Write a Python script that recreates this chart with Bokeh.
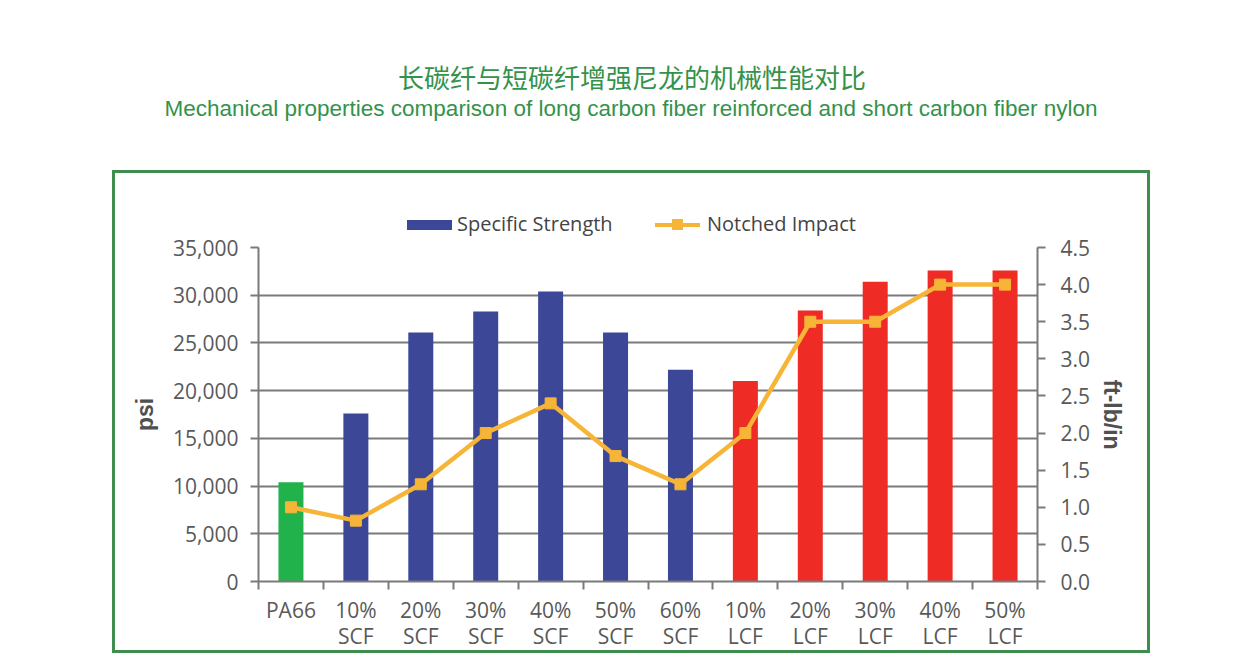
from bokeh.plotting import figure
from bokeh.layouts import column
from bokeh.models import (Range1d, LinearAxis, FixedTicker, NumeralTickFormatter,
                          ColumnDataSource, InlineStyleSheet, Div)
from bokeh.embed import file_html
from bokeh.resources import INLINE

# ---- data ----
categories = ["PA66", "10%\nSCF", "20%\nSCF", "30%\nSCF", "40%\nSCF", "50%\nSCF", "60%\nSCF",
              "10%\nLCF", "20%\nLCF", "30%\nLCF", "40%\nLCF", "50%\nLCF"]
groups = ["base", "scf", "scf", "scf", "scf", "scf", "scf", "lcf", "lcf", "lcf", "lcf", "lcf"]
specific_strength = [10400, 17600, 26100, 28300, 30400, 26100, 22200, 21000, 28400, 31400, 32600, 32600]
notched_impact = [1.0, 0.82, 1.31, 2.0, 2.4, 1.69, 1.31, 2.0, 3.5, 3.5, 4.0, 4.0]
psi_ticks = [0, 5000, 10000, 15000, 20000, 25000, 30000, 35000]
impact_ticks = [0.0, 0.5, 1.0, 1.5, 2.0, 2.5, 3.0, 3.5, 4.0, 4.5]
series_names = ["Specific Strength", "Notched Impact"]
title_cn = "长碳纤与短碳纤增强尼龙的机械性能对比"
title_en = "Mechanical properties comparison of long carbon fiber reinforced and short carbon fiber nylon"

group_colors = {"base": "#21b24b", "scf": "#3c4798", "lcf": "#ee2b25"}
LINE_COLOR = "#f6b537"
GRID = "#7a7a7a"
TXT = "#595959"
TITLE_GREEN = "#34924a"
FRAME_GREEN = "#3f8e4f"

W, H = 1260, 671
TOP_H = 238          # height of the header (titles + legend)
xpos = [i + 0.5 for i in range(len(categories))]

# ================= header: titles and legend =================
header_html = (
    '<div style="position:relative;width:%dpx;height:%dpx;overflow:visible;">' % (W, TOP_H)
    + '<div style="position:absolute;left:0;top:62px;width:1264px;text-align:center;'
      'font-family:\'Noto Sans CJK SC\';font-size:26px;line-height:30px;color:%s;">%s</div>'
      % (TITLE_GREEN, title_cn)
    + '<div style="position:absolute;left:0;top:96px;width:1262px;text-align:center;'
      'font-family:\'Liberation Sans\';font-size:22.5px;line-height:26px;color:%s;'
      'white-space:nowrap;">%s</div>' % (TITLE_GREEN, title_en)
    # legend entry 1: bar swatch
    + '<div style="position:absolute;left:407px;top:220px;width:45px;height:10px;'
      'background:%s;"></div>' % group_colors["scf"]
    + '<div style="position:absolute;left:457px;top:211px;font-family:\'Open Sans\';'
      'font-size:20px;line-height:26px;color:#444444;white-space:nowrap;">%s</div>'
      % series_names[0]
    # legend entry 2: line + square marker
    + '<div style="position:absolute;left:655px;top:223px;width:45px;height:4px;'
      'background:%s;"></div>' % LINE_COLOR
    + '<div style="position:absolute;left:672px;top:219px;width:11px;height:11px;'
      'background:%s;"></div>' % LINE_COLOR
    + '<div style="position:absolute;left:707px;top:211px;font-family:\'Open Sans\';'
      'font-size:20px;line-height:26px;color:#444444;white-space:nowrap;">%s</div>'
      % series_names[1]
    + '</div>'
)
head = Div(text=header_html, width=W, height=TOP_H, margin=0)

# ================= chart figure =================
p = figure(width=W, height=H - TOP_H, output_backend="svg", toolbar_location=None,
           x_range=Range1d(0, len(categories)), y_range=Range1d(0, 35000),
           min_border_left=258, min_border_right=223, min_border_top=247 - TOP_H,
           min_border_bottom=90, x_axis_location=None, y_axis_location=None)
p.outline_line_color = None
p.background_fill_color = "white"
p.border_fill_color = None
p.extra_y_ranges = {"impact": Range1d(0, 4.5)}

p.xgrid.visible = False
p.ygrid.ticker = FixedTicker(ticks=psi_ticks)
p.ygrid.grid_line_color = GRID
p.ygrid.grid_line_width = 2

for g in ["base", "scf", "lcf"]:
    idx = [i for i, gg in enumerate(groups) if gg == g]
    src = ColumnDataSource(dict(x=[xpos[i] for i in idx], top=[specific_strength[i] for i in idx]))
    p.vbar(x="x", top="top", width=0.385, source=src, fill_color=group_colors[g], line_color=None)

line_src = ColumnDataSource(dict(x=xpos, y=notched_impact))
p.line("x", "y", source=line_src, y_range_name="impact", line_color=LINE_COLOR, line_width=4.5)
p.scatter("x", "y", source=line_src, y_range_name="impact", marker="square", size=11,
          fill_color=LINE_COLOR, line_color=LINE_COLOR)

tick_font = "Open Sans"
ax_l = LinearAxis(ticker=FixedTicker(ticks=psi_ticks), formatter=NumeralTickFormatter(format="0,0"))
ax_l.axis_label = "psi"
ax_r = LinearAxis(y_range_name="impact", ticker=FixedTicker(ticks=impact_ticks),
                  formatter=NumeralTickFormatter(format="0.0"))
ax_r.axis_label = "ft-lb/in"
for ax in (ax_l, ax_r):
    ax.axis_line_color = GRID
    ax.axis_line_width = 2
    ax.major_tick_line_color = GRID
    ax.major_tick_line_width = 2
    ax.major_tick_out = 8
    ax.major_tick_in = 0
    ax.minor_tick_line_color = None
    ax.major_label_text_font = tick_font
    ax.major_label_text_font_size = "21px"
    ax.major_label_text_color = TXT
    ax.axis_label_text_font = "Liberation Sans"
    ax.axis_label_text_font_style = "bold"
    ax.axis_label_text_font_size = "23px"
    ax.axis_label_text_color = "#505050"
ax_l.major_label_standoff = 12
ax_l.axis_label_standoff = 12
ax_r.major_label_standoff = 15
ax_r.axis_label_standoff = 6
p.add_layout(ax_l, "left")
p.add_layout(ax_r, "right")

ax_b = LinearAxis(ticker=FixedTicker(ticks=xpos, minor_ticks=list(range(len(categories) + 1))))
ax_b.major_label_overrides = {x: c for x, c in zip(xpos, categories)}
ax_b.axis_line_color = GRID
ax_b.axis_line_width = 2
ax_b.major_tick_line_color = None
ax_b.minor_tick_line_color = GRID
ax_b.minor_tick_line_width = 2
ax_b.minor_tick_out = 8
ax_b.minor_tick_in = 0
ax_b.major_label_text_font = tick_font
ax_b.major_label_text_font_size = "21px"
ax_b.major_label_text_line_height = 0.95
ax_b.major_label_text_color = TXT
ax_b.major_label_standoff = 6
p.add_layout(ax_b, "below")

layout = column(head, p, spacing=0)
# green frame around the chart area (page decoration)
layout.stylesheets = [InlineStyleSheet(css=(
    ":host { position: relative; }"
    ":host::after { content: ''; position: absolute; left: 112px; top: 170px; "
    "width: 1038px; height: 483px; border: 3px solid " + FRAME_GREEN + "; "
    "box-sizing: border-box; pointer-events: none; z-index: 5; }"))]

open("out.html", "w").write(file_html(layout, INLINE))
